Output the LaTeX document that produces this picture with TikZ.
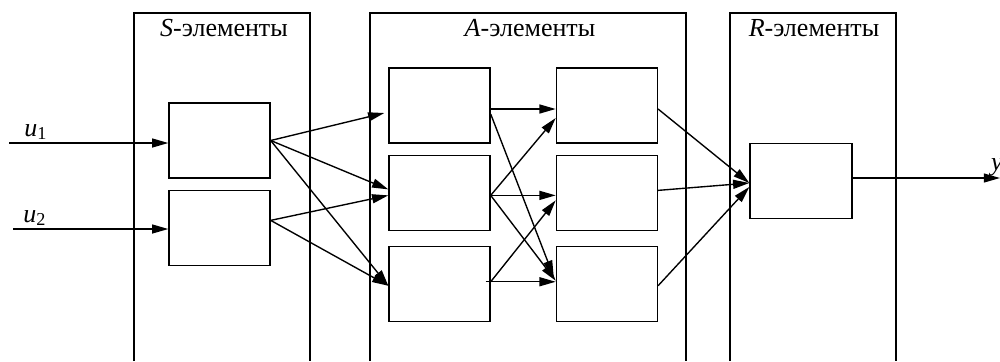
\documentclass[tikz,border=0pt]{standalone}
\usepackage{fontspec}
\setmainfont{Liberation Serif}
\usetikzlibrary{arrows.meta, positioning, calc}

\tikzset{
  elem/.style={draw, rectangle, minimum width=40.4pt, minimum height=30pt, inner sep=0pt},
  link/.style={-{Triangle[length=6.5pt,width=3.6pt]}},
}

\begin{document}
\begin{tikzpicture}[x=0.4pt, y=-0.4pt, line width=0.55pt, font=\fontsize{10.4}{12}\selectfont]
\useasboundingbox (0,0) rectangle (1000,361);
% panels, open at the bottom
\draw (134,361) |- (310,13) -- (310,361);
\draw (370,361) |- (686,13) -- (686,361);
\draw (730,361) |- (896,13) -- (896,361);
\node (stitle) at (224,28) {\textit{S}-элементы};
\node (atitle) at (530,28) {\textit{A}-элементы};
\node (rtitle) at (814,28) {\textit{R}-элементы};
% boxes
\node[elem] (s1) at (219.5,140.5) {};
\node[elem, below=4.4pt of s1] (s2) {};
\node[elem] (a1) at (439.5,105.5) {};
\node[elem, below=4.4pt of a1] (a2) {};
\node[elem, below=6pt of a2] (a3) {};
\node[elem, right=26pt of a1] (b1) {};
\node[elem, right=26pt of a2] (b2) {};
\node[elem, right=26pt of a3] (b3) {};
\node[elem, minimum width=40.8pt] (r) at (801,181) {};
% inputs and output
\coordinate (in1) at (9,143);
\coordinate (in2) at (13,229);
\coordinate (out) at (1000,178);
\node (u1) at (36,132) {\textit{u}\textsubscript{1}};
\node (u2) at (35,218) {\textit{u}\textsubscript{2}};
\node (ylbl) at (997,167) {\textit{y}};
\draw[link] (in1) -- (in1 -| s1.west);
\draw[link] (in2) -- (in2 -| s2.west);
\draw[link] ($(r.east)+(0,-3)$) -- (out);
% S -> A
\draw[link] (s1.east) -- ($(a1.west)+(-4,7.5)$);
\draw[link] (s1.east) -- ($(a2.west)+(0,-3.5)$);
\draw[link] (s1.east) -- ($(a3.west)+(0,1.5)$);
\draw[link] ($(s2.east)+(0,-7.5)$) -- ($(a2.west)+(0,2.5)$);
\draw[link] ($(s2.east)+(0,-7.5)$) -- ($(a3.west)+(0,1.5)$);
% A -> A
\draw[link] ($(a1.east)+(0,3.5)$) -- ($(b1.west)+(0,3.5)$);
\draw[link] ($(a1.east)+(0,8.5)$) -- ($(b3.west)+(-2,-7.5)$);
\draw[link] ($(a2.east)+(0,2.5)$) -- ($(b1.west)+(0,12.5)$);
\draw[link] ($(a2.east)+(0,2.5)$) -- ($(b2.west)+(0,2.5)$);
\draw[link] ($(a2.east)+(0,2.5)$) -- ($(b3.west)+(0,-3.5)$);
\draw[link] ($(a3.east)+(-5,-2.5)$) -- ($(b3.west)+(0,-2.5)$);
\draw[link] ($(a3.east)+(0,-2.5)$) -- ($(b2.west)+(0,7.5)$);
% A -> R
\draw[link] ($(b1.east)+(0,3.5)$) -- ($(r.west)+(0,2)$);
\draw[link] ($(b2.east)+(0,-2.5)$) -- ($(r.west)+(0,2)$);
\draw[link] ($(b3.east)+(0,1.5)$) -- ($(r.west)+(0,6)$);
\end{tikzpicture}
\end{document}
